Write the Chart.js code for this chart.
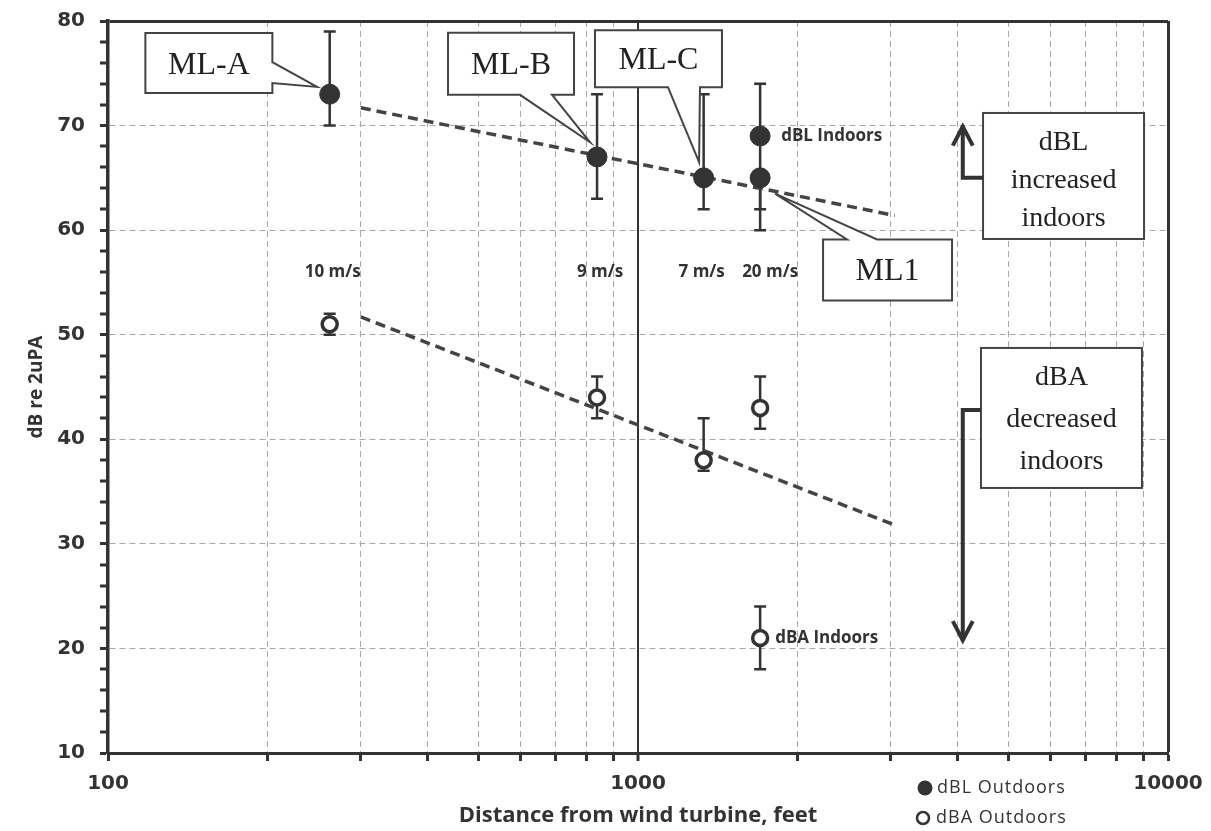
<!DOCTYPE html>
<html>
<head>
<meta charset="utf-8">
<script src="https://cdn.jsdelivr.net/npm/chart.js@4.4.1/dist/chart.umd.min.js"></script>
<style>
html, body { margin:0; padding:0; background:#fff; }
#wrap { width:1211px; height:831px; }
</style>
</head>
<body>
<div id="wrap"><canvas id="chart" width="1211" height="831"></canvas></div>
<script>
// sites ML-A, ML-B, ML-C, ML1 - distance from turbine in feet
let distances = [262, 837, 1330, 1700];
let windSpeeds = ['10 m/s', '9 m/s', '7 m/s', '20 m/s'];

let dblOutdoor = [73, 67, 65, 65];
let dblOutdoorLow = [70, 63, 62, 60];
let dblOutdoorHigh = [79, 73, 73, 65];

let dbaOutdoor = [51, 44, 38, 43];
let dbaOutdoorLow = [50, 42, 37, 41];
let dbaOutdoorHigh = [52, 46, 42, 46];

// indoor readings at ML1
let indoorDistance = [1700];
let dblIndoor = [69];
let dblIndoorLow = [62];
let dblIndoorHigh = [74];
let dbaIndoor = [21];
let dbaIndoorLow = [18];
let dbaIndoorHigh = [24];

// dashed trend lines
let trendDistance = [300, 3050];
let dblTrend = [71.7, 61.4];
let dbaTrend = [51.7, 31.8];

let xTickValues = [100,200,300,400,500,600,700,800,900,1000,2000,3000,4000,5000,6000,7000,8000,9000,10000];
let xTickLabels = [100, 1000, 10000];
let yTickLabels = [10, 20, 30, 40, 50, 60, 70, 80];

const dark = '#333333';
const gridGrey = '#a8a8a8';

function points(xs, ys){
    return xs.map((v, i) => ({x: v, y: ys[i]}));
}

// callout boxes (centre given in data units, size in px)
const callouts = [
    {text:'ML-A', x:155, y:75.98, w:127, h:60, side:'right', b1:29, b2:50, tipX:248, tipY:73.7},
    {text:'ML-B', x:576, y:75.9, w:126, h:62, side:'bottom', b1:72, b2:104, tipX:812, tipY:68.4},
    {text:'ML-C', x:1093, y:76.4, w:127, h:57, side:'bottom', b1:73, b2:105, tipX:1304, tipY:66.5},
    {text:'ML1', x:2957, y:56.2, w:129, h:61, side:'top', b1:24, b2:54, tipX:1814, tipY:63.5}
];
const noteBoxes = [
    {lines:['dBL','increased','indoors'], x:6352, y:65.18, w:161, h:126, first:37, step:38, arrowY:65.0, arrowTo:70},
    {lines:['dBA','decreased','indoors'], x:6295, y:42.04, w:161, h:140, first:37, step:42, arrowY:42.8, arrowTo:20.7}
];
const arrowX = 4100;
const speedNudge = [3, 3, -2, 10];

const errorSets = [
    {x:distances, low:dblOutdoorLow, high:dblOutdoorHigh},
    {x:indoorDistance, low:dblIndoorLow, high:dblIndoorHigh},
    {x:distances, low:dbaOutdoorLow, high:dbaOutdoorHigh},
    {x:indoorDistance, low:dbaIndoorLow, high:dbaIndoorHigh}
];

const errorBars = {
    id:'errorBars',
    beforeDatasetsDraw(chart){
        const {ctx, scales:{x, y}} = chart;
        ctx.save();
        ctx.strokeStyle = dark;
        ctx.lineWidth = 2.5;
        errorSets.forEach(function(set){
            set.x.forEach(function(v, i){
                let px = x.getPixelForValue(v);
                let lo = y.getPixelForValue(set.low[i]);
                let hi = y.getPixelForValue(set.high[i]);
                ctx.beginPath();
                ctx.moveTo(px, lo); ctx.lineTo(px, hi);
                ctx.moveTo(px - 6, lo); ctx.lineTo(px + 6, lo);
                ctx.moveTo(px - 6, hi); ctx.lineTo(px + 6, hi);
                ctx.stroke();
            });
        });
        ctx.restore();
    }
};

function calloutPath(ctx, L, T, W, H, c, tx, ty){
    let R = L + W, B = T + H;
    ctx.beginPath();
    ctx.moveTo(L, T);
    if (c.side === 'top'){
        ctx.lineTo(L + c.b1, T); ctx.lineTo(tx, ty); ctx.lineTo(L + c.b2, T);
    }
    ctx.lineTo(R, T);
    if (c.side === 'right'){
        ctx.lineTo(R, T + c.b1); ctx.lineTo(tx, ty); ctx.lineTo(R, T + c.b2);
    }
    ctx.lineTo(R, B);
    if (c.side === 'bottom'){
        ctx.lineTo(L + c.b2, B); ctx.lineTo(tx, ty); ctx.lineTo(L + c.b1, B);
    }
    ctx.lineTo(L, B);
    ctx.closePath();
}

const notes = {
    id:'notes',
    afterDatasetsDraw(chart){
        const {ctx, scales:{x, y}} = chart;
        ctx.save();

        // wind speed labels
        ctx.fillStyle = dark;
        ctx.font = 'bold 17px "Open Sans"';
        ctx.textAlign = 'center';
        ctx.textBaseline = 'middle';
        windSpeeds.forEach(function(s, i){
            ctx.fillText(s, x.getPixelForValue(distances[i]) + speedNudge[i], y.getPixelForValue(56));
        });
        ctx.textAlign = 'left';
        ctx.fillText('dBL Indoors', x.getPixelForValue(indoorDistance[0]) + 21, y.getPixelForValue(dblIndoor[0]));
        ctx.fillText('dBA Indoors', x.getPixelForValue(indoorDistance[0]) + 15, y.getPixelForValue(dbaIndoor[0]));

        // callouts
        callouts.forEach(function(c){
            let cx = x.getPixelForValue(c.x), cy = y.getPixelForValue(c.y);
            let L = cx - c.w / 2, T = cy - c.h / 2;
            calloutPath(ctx, L, T, c.w, c.h, c, x.getPixelForValue(c.tipX), y.getPixelForValue(c.tipY));
            ctx.fillStyle = '#fff';
            ctx.fill();
            ctx.strokeStyle = '#444';
            ctx.lineWidth = 2;
            ctx.stroke();
            ctx.fillStyle = '#222';
            ctx.font = '32px "Liberation Serif"';
            ctx.textAlign = 'center';
            ctx.textBaseline = 'alphabetic';
            ctx.fillText(c.text, cx, cy + 10.5);
        });

        // text boxes with arrows
        noteBoxes.forEach(function(b){
            let cx = x.getPixelForValue(b.x), cy = y.getPixelForValue(b.y);
            let L = cx - b.w / 2, T = cy - b.h / 2;
            ctx.fillStyle = '#fff';
            ctx.fillRect(L, T, b.w, b.h);
            ctx.strokeStyle = '#444';
            ctx.lineWidth = 2;
            ctx.strokeRect(L, T, b.w, b.h);
            ctx.fillStyle = '#222';
            ctx.font = '28px "Liberation Serif"';
            ctx.textAlign = 'center';
            ctx.textBaseline = 'alphabetic';
            b.lines.forEach(function(t, i){
                ctx.fillText(t, cx, T + b.first + i * b.step);
            });

            let ax = x.getPixelForValue(arrowX);
            let ay = y.getPixelForValue(b.arrowY);
            let tip = y.getPixelForValue(b.arrowTo);
            let dir = tip < ay ? 1 : -1;
            ctx.strokeStyle = dark;
            ctx.lineWidth = 4;
            ctx.lineJoin = 'miter';
            ctx.beginPath();
            ctx.moveTo(L, ay); ctx.lineTo(ax, ay); ctx.lineTo(ax, tip);
            ctx.stroke();
            ctx.beginPath();
            ctx.moveTo(ax - 10, tip + dir * 20); ctx.lineTo(ax, tip + dir * 1); ctx.lineTo(ax + 10, tip + dir * 20);
            ctx.stroke();
        });

        ctx.restore();
    },
    afterDraw(chart){
        const {ctx, chartArea} = chart;
        ctx.save();
        // legend below the axis, right side
        let lx = chartArea.right - 243;
        ctx.fillStyle = dark;
        ctx.beginPath();
        ctx.arc(lx, 788, 7.5, 0, Math.PI * 2);
        ctx.fill();
        ctx.strokeStyle = dark;
        ctx.lineWidth = 2.5;
        ctx.beginPath();
        ctx.arc(lx - 2, 818, 6, 0, Math.PI * 2);
        ctx.stroke();
        ctx.font = '500 18px "Open Sans"';
        ctx.letterSpacing = '1px';
        ctx.textAlign = 'left';
        ctx.textBaseline = 'middle';
        ctx.fillText('dBL Outdoors', lx + 12, 788);
        ctx.fillText('dBA Outdoors', lx + 11, 818);
        ctx.restore();
    }
};

let canvas = document.querySelector('#chart');
let chart = new Chart(canvas.getContext('2d'), {
    type:'scatter',
    data:{
        datasets:[
            {label:'dBL Outdoors', data:points(distances, dblOutdoor), pointRadius:10, pointBackgroundColor:dark, pointBorderColor:dark, pointBorderWidth:1},
            {label:'dBL Indoors', data:points(indoorDistance, dblIndoor), pointRadius:10, pointBackgroundColor:dark, pointBorderColor:dark, pointBorderWidth:1},
            {label:'dBA Outdoors', data:points(distances, dbaOutdoor), pointRadius:7.5, pointBackgroundColor:'#fff', pointBorderColor:dark, pointBorderWidth:3.5},
            {label:'dBA Indoors', data:points(indoorDistance, dbaIndoor), pointRadius:7.5, pointBackgroundColor:'#fff', pointBorderColor:dark, pointBorderWidth:3.5},
            {label:'dBL trend', data:points(trendDistance, dblTrend), showLine:true, pointRadius:0, borderColor:'#444', borderWidth:3.5, borderDash:[10, 6]},
            {label:'dBA trend', data:points(trendDistance, dbaTrend), showLine:true, pointRadius:0, borderColor:'#444', borderWidth:3.5, borderDash:[10, 6]}
        ]
    },
    options:{
        responsive:false,
        animation:false,
        layout:{padding:{top:21, right:43, left:0, bottom:0}},
        plugins:{legend:{display:false}, tooltip:{enabled:false}},
        scales:{
            x:{
                type:'logarithmic',
                min:100,
                max:10000,
                afterBuildTicks:function(scale){
                    scale.ticks = xTickValues.map(v => ({value:v}));
                },
                afterFit:function(scale){
                    scale.height = 78;
                    scale.paddingLeft = 0;
                    scale.paddingRight = 0;
                },
                ticks:{
                    autoSkip:false,
                    maxRotation:0,
                    padding:11,
                    color:dark,
                    font:{family:'"DejaVu Sans"', weight:'bold', size:20},
                    callback:function(v){
                        return xTickLabels.includes(v) ? String(v) : '';
                    }
                },
                grid:{
                    color:c => (c.tick && (c.tick.value === 1000 || c.tick.value === 10000)) ? dark : gridGrey,
                    lineWidth:c => !c.tick ? 1 : (c.tick.value === 10000 ? 3 : (c.tick.value === 1000 ? 2 : 1)),
                    tickLength:8,
                    tickWidth:3,
                    tickColor:dark,
                    tickBorderDash:[]
                },
                border:{
                    color:dark,
                    width:3,
                    dash:c => (c.tick && (c.tick.value === 1000 || c.tick.value === 10000)) ? [] : [6, 4]
                },
                title:{
                    display:true,
                    text:'Distance from wind turbine, feet',
                    color:dark,
                    font:{family:'"Open Sans"', weight:'bold', size:22},
                    padding:{top:0, bottom:2}
                }
            },
            y:{
                min:10,
                max:80,
                afterFit:function(scale){
                    scale.width = 108;
                    scale.paddingTop = 0;
                    scale.paddingBottom = 0;
                },
                ticks:{
                    stepSize:2,
                    autoSkip:false,
                    padding:15,
                    color:dark,
                    font:{family:'"DejaVu Sans"', weight:'bold', size:20},
                    callback:function(v){
                        return yTickLabels.includes(v) ? String(v) : '';
                    }
                },
                grid:{
                    color:c => (c.tick && c.tick.value === 80) ? dark : gridGrey,
                    lineWidth:c => !c.tick ? 1 : (c.tick.value === 80 ? 3 : (c.tick.value % 10 === 0 ? 1 : 0)),
                    tickLength:8,
                    tickWidth:3,
                    tickColor:dark,
                    tickBorderDash:[]
                },
                border:{
                    color:dark,
                    width:3.5,
                    dash:c => (c.tick && c.tick.value === 80) ? [] : [6, 4]
                },
                title:{
                    display:true,
                    text:'dB re 2uPA',
                    color:dark,
                    font:{family:'"Open Sans"', weight:'bold', size:19},
                    padding:{top:25, bottom:0}
                }
            }
        }
    },
    plugins:[errorBars, notes]
});
</script>
</body>
</html>
